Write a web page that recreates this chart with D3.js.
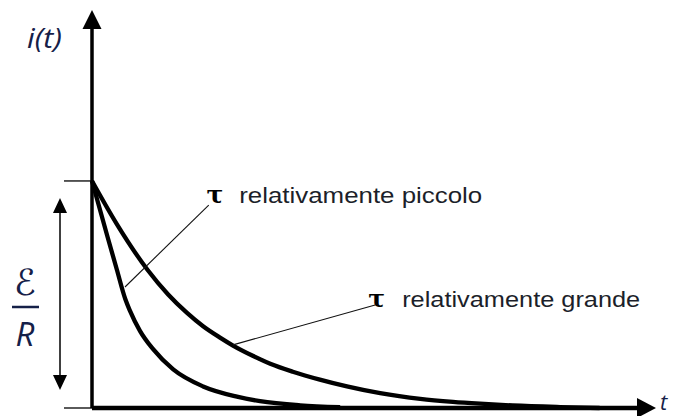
<!DOCTYPE html>
<html>
<head>
<meta charset="utf-8">
<script src="https://cdn.jsdelivr.net/npm/d3@7"></script>
<style>
  html, body { margin: 0; padding: 0; background: #fff; }
  svg { display: block; }
</style>
</head>
<body>
<svg id="chart" width="678" height="416"></svg>
<script>
// Discharge current i(t) for two time constants (i normalised to E/R = 1)
const tSmall = [0, 0.28, 0.44, 0.59, 0.67, 0.85, 1.08, 1.44, 1.97, 2.57, 2.98, 3.69, 4.40];
const iSmall = [1.00, 0.75, 0.61, 0.48, 0.43, 0.34, 0.26, 0.17, 0.095, 0.05, 0.03, 0.012, 0.004];

const tLarge = [0, 0.44, 0.98, 1.35, 1.68, 1.97, 2.27, 2.50, 2.85, 3.16, 3.56, 4.04, 4.52, 5.11, 5.82, 6.40, 6.88, 7.46, 8.30, 9.00];
const iLarge = [1.00, 0.81, 0.61, 0.50, 0.42, 0.36, 0.31, 0.275, 0.23, 0.195, 0.16, 0.125, 0.095, 0.065, 0.04, 0.027, 0.019, 0.011, 0.004, 0.0];

const labelSmall = "relativamente piccolo";
const labelLarge = "relativamente grande";
const yLabel = "i(t)";
const xLabel = "t";

const svg = d3.select("#chart");
const x = d3.scaleLinear().domain([0, 10]).range([92, 656]);
const y = d3.scaleLinear().domain([0, 1.753]).range([408, 10]);

const line = d3.line().x(d => x(d[0])).y(d => y(d[1]));
const smooth = d3.line().x(d => x(d[0])).y(d => y(d[1])).curve(d3.curveMonotoneX);

// ---- axes ----
const yTop = 1.753, xEnd = 10;
// vertical axis
svg.append("path")
  .attr("d", line([[0, 0], [0, yTop - 0.05]]))
  .attr("stroke", "#000").attr("stroke-width", 3.5).attr("fill", "none");
svg.append("path")
  .attr("d", `M${x(0)},${y(yTop)} L${x(0) - 9.5},${y(yTop) + 19} L${x(0) + 9.5},${y(yTop) + 19} Z`)
  .attr("fill", "#000");
// horizontal axis
svg.append("path")
  .attr("d", line([[0, 0], [xEnd - 0.3, 0]]))
  .attr("stroke", "#000").attr("stroke-width", 4.5).attr("fill", "none");
svg.append("path")
  .attr("d", `M${x(xEnd)},${y(0)} L${x(xEnd) - 19},${y(0) - 10} L${x(xEnd) - 19},${y(0) + 10} Z`)
  .attr("fill", "#000");

// level ticks at 0 and E/R
const tickLen = 28;
[0, 1].forEach(v => {
  svg.append("line")
    .attr("x1", x(0) - tickLen).attr("x2", x(0))
    .attr("y1", y(v)).attr("y2", y(v))
    .attr("stroke", "#000").attr("stroke-width", 1.3);
});

// double-headed dimension arrow for E/R
const ax = 60;
const yA = y(1) + 17, yB = y(0) - 18;
svg.append("line")
  .attr("x1", ax).attr("x2", ax).attr("y1", yA + 10).attr("y2", yB - 10)
  .attr("stroke", "#000").attr("stroke-width", 1.5);
svg.append("path")
  .attr("d", `M${ax},${yA} L${ax - 7},${yA + 15} L${ax + 7},${yA + 15} Z`).attr("fill", "#000");
svg.append("path")
  .attr("d", `M${ax},${yB} L${ax - 7},${yB - 15} L${ax + 7},${yB - 15} Z`).attr("fill", "#000");

// ---- curves ----
const dataSmall = tSmall.map((t, k) => [t, iSmall[k]]);
const dataLarge = tLarge.map((t, k) => [t, iLarge[k]]);
[dataSmall, dataLarge].forEach(d => {
  svg.append("path")
    .attr("d", smooth(d))
    .attr("fill", "none").attr("stroke", "#000")
    .attr("stroke-width", 4.3).attr("stroke-linejoin", "round");
});

// ---- annotations ----
const notes = [
  { from: [0.585, 0.533], to: [2.07, 0.894], tau: [2.03, 0.903], text: [2.61, 0.903], label: labelSmall, width: 243 },
  { from: [2.50, 0.278], to: [5.02, 0.454], tau: [4.90, 0.445], text: [5.50, 0.445], label: labelLarge, width: 238 }
];
notes.forEach(n => {
  svg.append("path")
    .attr("d", line([n.from, n.to]))
    .attr("stroke", "#111").attr("stroke-width", 1.1).attr("fill", "none");
  svg.append("text")
    .attr("x", x(n.tau[0])).attr("y", y(n.tau[1]))
    .attr("font-family", "'DejaVu Serif', 'Liberation Serif', serif")
    .attr("font-weight", "bold").attr("font-size", 25)
    .attr("fill", "#000")
    .text("τ");
  svg.append("text")
    .attr("x", x(n.text[0])).attr("y", y(n.text[1]))
    .attr("font-family", "'Liberation Sans', Arial, sans-serif")
    .attr("font-size", 21.5)
    .attr("textLength", n.width).attr("lengthAdjust", "spacingAndGlyphs")
    .attr("fill", "#1c1f2a")
    .text(n.label);
});

// axis titles
svg.append("text")
  .attr("x", 27).attr("y", 48)
  .attr("font-family", "'Open Sans', sans-serif").attr("font-style", "italic")
  .attr("font-size", 28).attr("fill", "#152048")
  .attr("textLength", 35).attr("lengthAdjust", "spacingAndGlyphs")
  .text(yLabel);
svg.append("text")
  .attr("x", 660).attr("y", 410)
  .attr("font-family", "'Open Sans', sans-serif").attr("font-style", "italic")
  .attr("font-size", 22).attr("fill", "#152048")
  .text(xLabel);

// E / R fraction
svg.append("text")
  .attr("x", 25).attr("y", 295).attr("text-anchor", "middle")
  .attr("font-family", "'DejaVu Sans', sans-serif").attr("font-style", "italic")
  .attr("font-size", 36).attr("fill", "#152048")
  .text("ℰ");
svg.append("line")
  .attr("x1", 12).attr("x2", 39).attr("y1", 307).attr("y2", 307)
  .attr("stroke", "#152048").attr("stroke-width", 2.5);
svg.append("text")
  .attr("x", 25).attr("y", 346).attr("text-anchor", "middle")
  .attr("font-family", "'Open Sans', sans-serif").attr("font-style", "italic")
  .attr("font-size", 33).attr("fill", "#152048")
  .text("R");
</script>
</body>
</html>
